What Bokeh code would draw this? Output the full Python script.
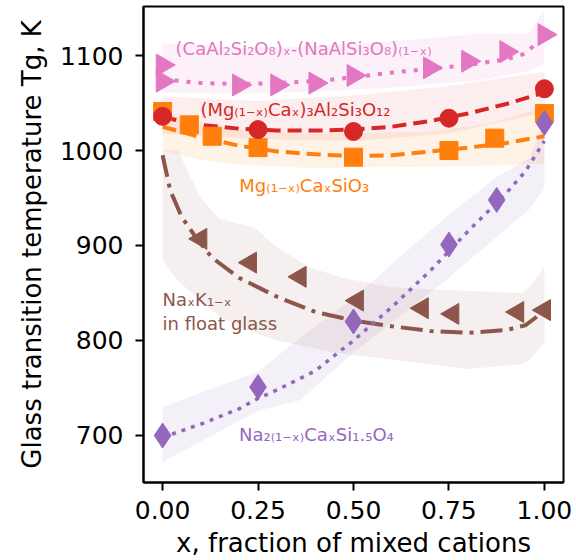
from bokeh.plotting import figure
from bokeh.models import Range1d, FixedTicker
from bokeh.core.properties import value
from bokeh.embed import file_html
from bokeh.resources import INLINE
import math

FONT = "DejaVu Sans"

# ---------------- data ----------------
x_ticks = [0.0, 0.25, 0.5, 0.75, 1.0]
x_tick_labels = ["0.00", "0.25", "0.50", "0.75", "1.00"]
y_ticks = [700, 800, 900, 1000, 1100]

# (CaAl2Si2O8)x-(NaAlSi3O8)(1-x)  -- pink
pink_x = [0.0, 0.0, 0.2, 0.3, 0.4, 0.5, 0.7, 0.8, 0.9, 1.0]
pink_y = [1090, 1073, 1069, 1069, 1071, 1079, 1087, 1094, 1104, 1122]
pink_fit_x = [0.0, 0.1, 0.2, 0.3, 0.4, 0.5, 0.6, 0.7, 0.8, 0.9, 0.95, 1.0]
pink_fit_y = [1075, 1071, 1070, 1071, 1073, 1077, 1082, 1086, 1090, 1096, 1102, 1121]
pink_band_x = [0.0, 0.2, 0.4, 0.6, 0.83, 0.96, 1.0]
pink_band_lo = [1061, 1060, 1062, 1066, 1074, 1084, 1091]
pink_band_hi = [1113, 1108, 1110, 1115, 1123, 1123, 1149]

# (Mg(1-x)Cax)3Al2Si3O12 -- red
red_x = [0.0, 0.25, 0.5, 0.75, 1.0]
red_y = [1036, 1022, 1020, 1034, 1065]
red_fit_x = [0.0, 0.1, 0.2, 0.3, 0.4, 0.5, 0.6, 0.7, 0.8, 0.9, 1.0]
red_fit_y = [1035, 1027, 1023, 1021, 1021, 1022, 1025, 1031, 1039, 1049, 1061]
red_band_x = [0.0, 0.25, 0.5, 0.75, 1.0]
red_band_lo = [1018, 1012, 1010, 1018, 1040]
red_band_hi = [1057, 1052, 1058, 1068, 1083]

# Mg(1-x)CaxSiO3 -- orange
orange_x = [0.0, 0.07, 0.13, 0.25, 0.5, 0.75, 0.87, 1.0]
orange_y = [1041, 1027, 1015, 1003, 993, 1000, 1013, 1039]
orange_fit_x = [0.0, 0.1, 0.2, 0.3, 0.4, 0.5, 0.6, 0.7, 0.8, 0.9, 1.0]
orange_fit_y = [1025, 1014, 1005, 999, 996, 994, 995, 999, 1003, 1008, 1015]
orange_band_x = [0.0, 0.1, 0.2, 0.36, 0.5, 0.7, 0.85, 1.0]
orange_band_lo = [1000, 990, 985, 982, 982, 983, 984, 986]
orange_band_hi = [1040, 1030, 1022, 1018, 1018, 1020, 1028, 1045]

# NaxK1-x in float glass -- brown
brown_x = [0.1, 0.23, 0.36, 0.51, 0.68, 0.76, 0.93, 1.0]
brown_y = [907, 882, 867, 842, 834, 828, 830, 832]
brown_fit_x = [0.0, 0.02, 0.05, 0.09, 0.13, 0.2, 0.3, 0.4, 0.5, 0.6, 0.7, 0.8, 0.9, 0.95, 0.98]
brown_fit_y = [995, 958, 930, 907, 887, 866, 846, 830, 821, 815, 810, 808, 811, 816, 825]
brown_band_x = [0.0, 0.04, 0.1, 0.15, 0.24, 0.3, 0.385, 0.47, 0.6, 0.8, 0.94, 0.96, 1.0]
brown_band_lo = [885, 863, 842, 825, 808, 800, 793, 786, 780, 770, 775, 779, 798]
brown_band_hi = [1000, 1000, 950, 928, 919, 898, 877, 866, 856, 852, 850, 856, 878]

# Na2(1-x)CaxSi1.5O4 -- purple
purple_x = [0.0, 0.25, 0.5, 0.75, 0.875, 1.0]
purple_y = [700, 751, 820, 901, 948, 1029]
purple_fit_x = [0.0, 0.1, 0.2, 0.25, 0.3, 0.4, 0.5, 0.6, 0.7, 0.8, 0.9, 0.95, 1.0]
purple_fit_y = [698, 712, 728, 739, 748, 768, 800, 835, 873, 915, 955, 978, 1010]
purple_band_x = [0.0, 0.25, 0.36, 0.5, 0.75, 0.875, 0.96, 1.0]
purple_band_lo = [672, 726, 737, 787, 866, 909, 938, 960]
purple_band_hi = [730, 767, 803, 845, 933, 972, 992, 1030]

labels_text = {
    "pink": "(CaAl\u2082Si\u2082O\u2088)\u2093-(NaAlSi\u2083O\u2088)\u208d\u2081\u208b\u2093\u208e",
    "red": "(Mg\u208d\u2081\u208b\u2093\u208eCa\u2093)\u2083Al\u2082Si\u2083O\u2081\u2082",
    "orange": "Mg\u208d\u2081\u208b\u2093\u208eCa\u2093SiO\u2083",
    "brown1": "Na\u2093K\u2081\u208b\u2093",
    "brown2": "in float glass",
    "purple": "Na\u2082\u208d\u2081\u208b\u2093\u208eCa\u2093Si\u2081.\u2085O\u2084",
}

C = {"pink": "#e377c2", "red": "#d62728", "orange": "#ff7f0e",
     "brown": "#8c564b", "purple": "#9467bd"}

# ---------------- figure ----------------
p = figure(width=576, height=560, output_backend="svg", toolbar_location=None,
           x_range=Range1d(-0.05, 1.05), y_range=Range1d(650.5, 1151.6),
           min_border_left=143, min_border_right=13, min_border_top=6,
           min_border_bottom=78, background_fill_color="white",
           border_fill_color="white")
p.grid.visible = False
p.outline_line_color = "black"
p.outline_line_width = 2
p.outline_line_alpha = 1.0

for ax in (p.xaxis[0], p.yaxis[0]):
    ax.axis_line_color = "black"
    ax.axis_line_width = 2
    ax.major_tick_line_color = "black"
    ax.major_tick_line_width = 2
    ax.major_tick_out = 8
    ax.major_tick_in = 0
    ax.minor_tick_line_color = None
    ax.major_label_text_font = FONT
    ax.major_label_text_font_size = "25px"
    ax.major_label_text_color = "black"
    ax.axis_label_text_font = FONT
    ax.axis_label_text_font_size = "26px"
    ax.axis_label_text_font_style = "normal"
    ax.axis_label_text_color = "black"

p.xaxis.ticker = FixedTicker(ticks=x_ticks)
p.xaxis.major_label_overrides = {t: l for t, l in zip(x_ticks, x_tick_labels)}
p.yaxis.ticker = FixedTicker(ticks=y_ticks)
p.xaxis.axis_label = "x, fraction of mixed cations"
p.yaxis.axis_label = "Glass transition temperature Tg, K"
p.xaxis.major_label_standoff = 10
p.yaxis.major_label_standoff = 12
p.xaxis.axis_label_standoff = 6
p.yaxis.axis_label_standoff = 10

# bands
p.varea(x=pink_band_x, y1=pink_band_lo, y2=pink_band_hi, fill_color=C["pink"], fill_alpha=0.1)
p.varea(x=orange_band_x, y1=orange_band_lo, y2=orange_band_hi, fill_color=C["orange"], fill_alpha=0.1)
p.varea(x=red_band_x, y1=red_band_lo, y2=red_band_hi, fill_color=C["red"], fill_alpha=0.08)
p.varea(x=brown_band_x, y1=brown_band_lo, y2=brown_band_hi, fill_color=C["brown"], fill_alpha=0.09)
p.varea(x=purple_band_x, y1=purple_band_lo, y2=purple_band_hi, fill_color=C["purple"], fill_alpha=0.1)

# fit lines
p.line(pink_fit_x, pink_fit_y, line_color=C["pink"], line_width=4, line_dash="4 8")
p.line(orange_fit_x, orange_fit_y, line_color=C["orange"], line_width=4, line_dash="14 7")
p.line(red_fit_x, red_fit_y, line_color=C["red"], line_width=4, line_dash="14 7")
p.line(brown_fit_x, brown_fit_y, line_color=C["brown"], line_width=4, line_dash="22 7 4 7")
p.line(purple_fit_x, purple_fit_y, line_color=C["purple"], line_width=3.5, line_dash="4 6")

# markers
p.scatter(pink_x, pink_y, marker="triangle", angle=-math.pi / 2, size=22,
          fill_color=C["pink"], line_color=C["pink"])
p.scatter(orange_x, orange_y, marker="square", size=18,
          fill_color=C["orange"], line_color=C["orange"])
p.scatter(red_x, red_y, marker="circle", size=18,
          fill_color=C["red"], line_color=C["red"])
p.scatter(brown_x, brown_y, marker="triangle", angle=math.pi / 2, size=21,
          fill_color=C["brown"], line_color=C["brown"])
p.scatter(purple_x, purple_y, marker="diamond", size=25,
          fill_color=C["purple"], line_color=C["purple"])

# labels
def lab(x, y, t, c):
    p.text(x=[x], y=[y], text=[t], text_color=c, text_font=value(FONT),
           text_font_size="18px", text_align="left", text_baseline="alphabetic")

lab(0.034, 1107, labels_text["pink"], C["pink"])
lab(0.099, 1043, labels_text["red"], C["red"])
lab(0.201, 963, labels_text["orange"], C["orange"])
lab(0.0, 843, labels_text["brown1"], C["brown"])
lab(0.0, 818, labels_text["brown2"], C["brown"])
lab(0.2, 701, labels_text["purple"], C["purple"])

open("out.html", "w").write(file_html(p, INLINE))
